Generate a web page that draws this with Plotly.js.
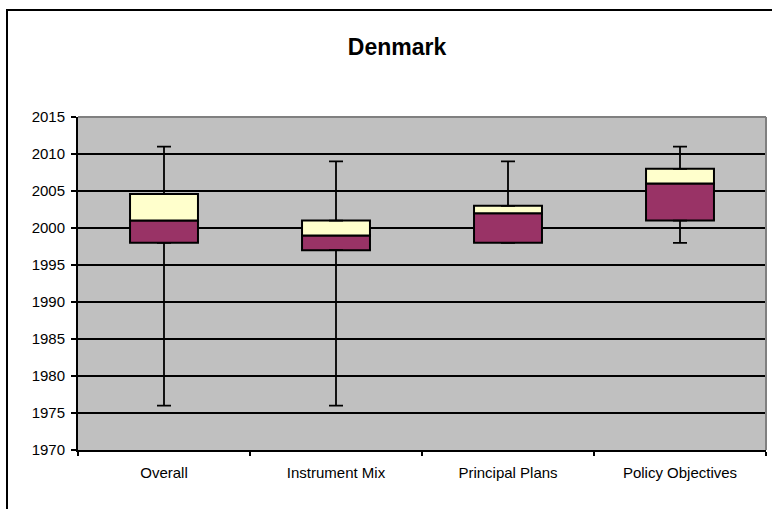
<!DOCTYPE html>
<html>
<head>
<meta charset="utf-8">
<script src="https://cdn.plot.ly/plotly-3.0.1.min.js"></script>
<style>
html,body{margin:0;padding:0;background:#fff;}
#chart{width:772px;height:509px;}
</style>
</head>
<body>
<div id="chart"></div>
<script>
const categories = ["Overall", "Instrument Mix", "Principal Plans", "Policy Objectives"];
const minVals    = [1976, 1976, 1998, 1998];
const q1Vals     = [1998, 1997, 1998, 2001];
const medianVals = [2001, 1999, 2002, 2006];
const q3Vals     = [2004.6, 2001, 2003, 2008];
const maxVals    = [2011, 2009, 2009, 2011];
const yTicks     = [1970, 1975, 1980, 1985, 1990, 1995, 2000, 2005, 2010, 2015];

const W = 772, H = 509;
const M = {l: 78, r: 6, t: 117, b: 59};
const pw = W - M.l - M.r, ph = H - M.t - M.b;
const px2x = p => (p - M.l) / pw;
const px2y = p => (H - M.b - p) / ph;

const fontFam = "Liberation Sans, Arial, sans-serif";

// lower box: from median down to Q1 (negative size so the bar's end sits at Q1)
const lower = {
  type: "bar",
  x: categories,
  base: medianVals,
  y: medianVals.map((m, i) => q1Vals[i] - m),
  width: 0.395,
  marker: {color: "#993366", line: {color: "#000", width: 2}},
  error_y: {
    type: "data", symmetric: false,
    array: categories.map(() => 0),
    arrayminus: q1Vals.map((q, i) => q - minVals[i]),
    color: "#000", thickness: 1.8, width: 7
  },
  hoverinfo: "skip",
  showlegend: false
};
// upper box: from median up to Q3
const upper = {
  type: "bar",
  x: categories,
  base: medianVals,
  y: q3Vals.map((q, i) => q - medianVals[i]),
  width: 0.395,
  marker: {color: "#FFFFCC", line: {color: "#000", width: 2}},
  error_y: {
    type: "data", symmetric: false,
    array: maxVals.map((m, i) => m - q3Vals[i]),
    arrayminus: categories.map(() => 0),
    color: "#000", thickness: 1.8, width: 7
  },
  hoverinfo: "skip",
  showlegend: false
};

const layout = {
  width: W, height: H,
  margin: M,
  paper_bgcolor: "#fff",
  plot_bgcolor: "#C0C0C0",
  barmode: "overlay",
  showlegend: false,
  font: {family: fontFam, color: "#000", size: 15},
  title: {
    text: "<b>Denmark</b>",
    font: {family: fontFam, size: 23, color: "#000"},
    x: 397 / W, xref: "container", xanchor: "center",
    y: 1 - 47 / H, yref: "container", yanchor: "middle"
  },
  xaxis: {
    type: "category",
    tickson: "boundaries",
    ticks: "outside", ticklen: 4, tickwidth: 2, tickcolor: "#000",
    ticklabelstandoff: 8,
    showline: true, linecolor: "#000", linewidth: 2,
    showgrid: false, zeroline: false,
    tickfont: {family: fontFam, size: 15, color: "#000"},
    fixedrange: true
  },
  yaxis: {
    range: [1970, 2015],
    tickvals: yTicks,
    ticktext: yTicks.map(String),
    ticks: "outside", ticklen: 5, tickwidth: 2, tickcolor: "#000",
    ticklabelstandoff: 3,
    showline: true, linecolor: "#000", linewidth: 2,
    showgrid: true, gridcolor: "#000", gridwidth: 1.5,
    zeroline: false,
    tickfont: {family: fontFam, size: 15, color: "#000"},
    fixedrange: true
  },
  shapes: [
    // plot area top/right border (gray)
    {type: "line", xref: "paper", yref: "paper", x0: 0, x1: 1, y0: 1, y1: 1,
     line: {color: "#808080", width: 2}, layer: "above"},
    {type: "line", xref: "paper", yref: "paper", x0: 1, x1: 1, y0: 0, y1: 1,
     line: {color: "#808080", width: 2}, layer: "above"},
    // outer chart border
    {type: "rect", xref: "paper", yref: "paper",
     x0: px2x(7), x1: px2x(W + 20), y0: px2y(H + 20), y1: px2y(10),
     line: {color: "#000", width: 2}, fillcolor: "rgba(0,0,0,0)", layer: "above"}
  ]
};

Plotly.newPlot("chart", [lower, upper], layout, {staticPlot: true, displayModeBar: false});
</script>
</body>
</html>
